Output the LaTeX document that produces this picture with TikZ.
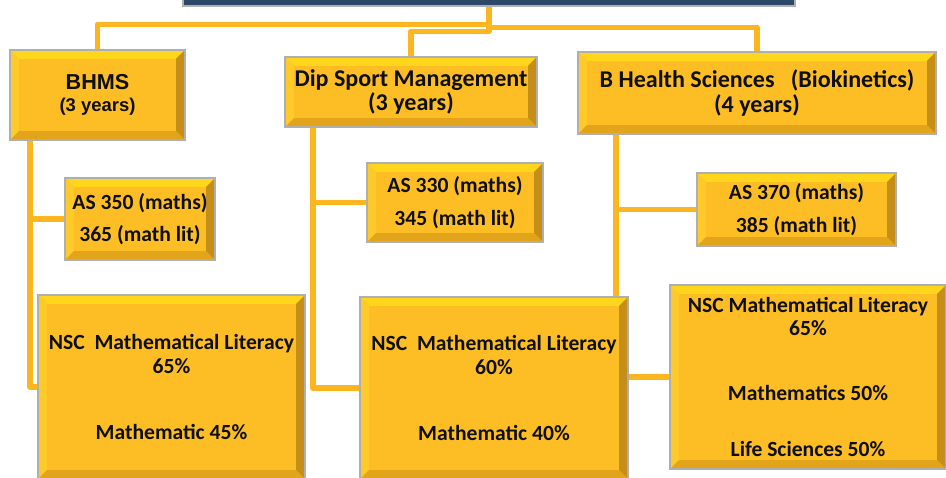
\documentclass[tikz,border=0pt]{standalone}
\usepackage{fontspec}
\setmainfont{Carlito}
\newfontfamily\arialfont{Liberation Sans}
\usetikzlibrary{backgrounds}

\definecolor{boxfill}{RGB}{252,190,36}
\definecolor{beveltop}{RGB}{255,214,28}
\definecolor{bevelleft}{RGB}{253,202,42}
\definecolor{bevelright}{RGB}{196,142,24}
\definecolor{bevelbottom}{RGB}{226,164,26}
\definecolor{boxedge}{RGB}{175,175,175}
\definecolor{linkcol}{RGB}{253,182,32}
\definecolor{topfill}{RGB}{44,72,104}
\definecolor{txtcol}{RGB}{15,15,15}

\tikzset{
  bevel/.style={draw=boxedge, line width=1.3pt, fill=boxfill, inner sep=0pt,
    align=center, text=txtcol, font=\bfseries\fontsize{12.3}{13.6}\selectfont,
    path picture={
      \coordinate (nw) at (path picture bounding box.north west);
      \coordinate (ne) at (path picture bounding box.north east);
      \coordinate (sw) at (path picture bounding box.south west);
      \coordinate (se) at (path picture bounding box.south east);
      \fill[beveltop] (nw) -- (ne) -- ([shift={(-5pt,-5pt)}]ne) -- ([shift={(5pt,-5pt)}]nw) -- cycle;
      \fill[bevelleft] (nw) -- ([shift={(5pt,-5pt)}]nw) -- ([shift={(5pt,5pt)}]sw) -- (sw) -- cycle;
      \fill[bevelright] (ne) -- ([shift={(-5pt,-5pt)}]ne) -- ([shift={(-5pt,5pt)}]se) -- (se) -- cycle;
      \fill[bevelbottom] (sw) -- ([shift={(5pt,5pt)}]sw) -- ([shift={(-5pt,5pt)}]se) -- (se) -- cycle;
    }},
  link/.style={draw=linkcol, line width=3pt, line join=round}
}

\begin{document}
\begin{tikzpicture}[x=0.02cm, y=-0.02cm]
\useasboundingbox (0,0) rectangle (946,477);
\clip (0,0) rectangle (946,477);

% top of the chart
\node[draw=boxedge, line width=1.3pt, fill=topfill, minimum width=12.24cm, minimum height=0.6cm] (top) at (489,-9) {};

% programmes
\node[bevel, minimum width=3.5cm, minimum height=1.8cm, font=\arialfont\bfseries\fontsize{12.3}{12.5}\selectfont] (bhms) at (97.5,95)
  {BHMS\\{\fontsize{10.5}{12.5}\selectfont(3 years)}};
\node[bevel, minimum width=5.04cm, minimum height=1.4cm, font=\bfseries\fontsize{13.7}{13.6}\selectfont] (dip) at (411,92)
  {Dip Sport Management\\(3 years)};
\node[bevel, minimum width=7.16cm, minimum height=1.64cm, font=\bfseries\fontsize{13.7}{14.2}\selectfont] (bhs) at (757,93)
  {B Health Sciences\ \ \ (Biokinetics)\\(4 years)};

% admission scores
\node[bevel, minimum width=3.0cm, minimum height=1.64cm, font=\bfseries\fontsize{12.3}{18.2}\selectfont] (as1) at (140,219)
  {AS 350 (maths)\\365 (math lit)};
\node[bevel, minimum width=3.52cm, minimum height=1.58cm, font=\bfseries\fontsize{12.3}{18.7}\selectfont] (as2) at (455,202.5)
  {AS 330 (maths)\\345 (math lit)};
\node[bevel, minimum width=3.98cm, minimum height=1.46cm, font=\bfseries\fontsize{12.3}{18.7}\selectfont] (as3) at (796.5,209.5)
  {AS 370 (maths)\\385 (math lit)};

% NSC requirements
\node[bevel, minimum width=5.34cm, minimum height=3.68cm] (nsc1) at (171.5,387)
  {NSC\ \ Mathematical Literacy\\65\%\\[23.8pt]Mathematic 45\%};
\node[bevel, minimum width=5.36cm, minimum height=3.64cm] (nsc2) at (494,388)
  {NSC\ \ Mathematical Literacy\\60\%\\[23.8pt]Mathematic 40\%};
\node[bevel, minimum width=5.52cm, minimum height=3.68cm] (nsc3) at (808,377)
  {NSC Mathematical Literacy\\[-0.6pt]65\%\\[23.3pt]Mathematics 50\%\\[18.2pt]Life Sciences 50\%};

\coordinate (b1) at (30,140);
\coordinate (d1) at (313,127);
\coordinate (h1) at (616,134);

\begin{scope}[on background layer]
\draw[link] (top.south) -- ++(0,17) -| (bhms.north);
\draw[link] (top.south) -- ++(0,20) -| (bhs.north);
\draw[link] (top.south) -- ++(0,24) -| (dip.north);
\draw[link] (b1) |- (nsc1.west);
\draw[link] (b1 |- as1.west) -- (as1.west);
\draw[link] (d1) |- (nsc2.west);
\draw[link] (d1 |- as2.west) -- (as2.west);
\draw[link] (h1) -- (h1 |- nsc2.north);
\draw[link] (h1 |- as3.west) -- (as3.west);
\draw[link] (nsc3.west -| nsc2.east) -- (nsc3.west);
\end{scope}
\end{tikzpicture}
\end{document}
